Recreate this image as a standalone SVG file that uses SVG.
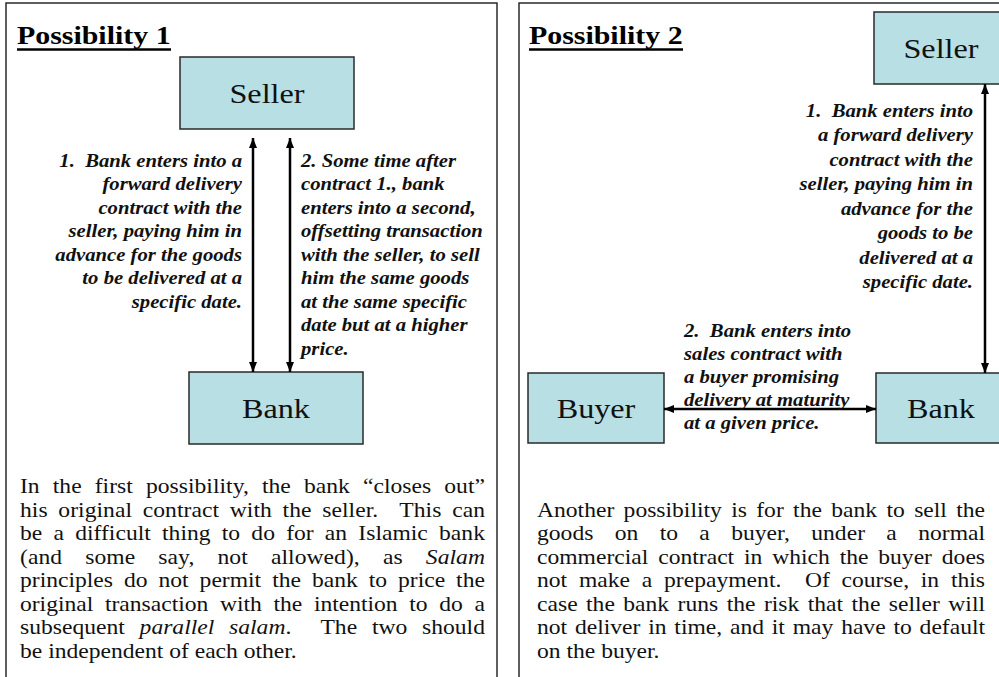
<svg xmlns="http://www.w3.org/2000/svg" width="999" height="677" viewBox="0 0 999 677">
  <style>
    .panel { fill: #ffffff; stroke: #2a2a2a; stroke-width: 1.5; }
    .box { fill: #b8dfe3; stroke: #2a2a2a; stroke-width: 1.5; }
    .title { font-family: "Liberation Serif", "Times New Roman", serif; font-size: 26px; font-weight: bold; fill: #000; }
    .rule { stroke: #000; stroke-width: 2.5; }
    .boxlabel { font-family: "Liberation Serif", "Times New Roman", serif; font-size: 28px; fill: #111; text-anchor: middle; }
    .note { font-family: "Liberation Serif", "Times New Roman", serif; font-size: 18px; font-weight: bold; font-style: italic; fill: #111; }
    .body { font-family: "Liberation Serif", "Times New Roman", serif; font-size: 20.5px; fill: #111; }
    .end { text-anchor: end; }
    .conn { stroke: #000; stroke-width: 2.5; fill: none; marker-start: url(#head); marker-end: url(#head); }
  </style>
  <defs>
    <marker id="head" viewBox="0 0 10 8" refX="10" refY="4" markerWidth="10" markerHeight="8" markerUnits="userSpaceOnUse" orient="auto-start-reverse">
      <path d="M0,0 L10,4 L0,8 z" fill="#000"/>
    </marker>
  </defs>

  <rect width="999" height="677" fill="#ffffff"/>

  <!-- two framed panels -->
  <rect class="panel" x="6" y="3" width="491" height="690"/>
  <rect class="panel" x="519" y="3" width="500" height="690"/>

  <!-- panel headings with underline rules -->
  <g transform="translate(17,44) scale(1.15,1)"><text class="title" x="0" y="0">Possibility 1</text></g>
  <line class="rule" x1="17" y1="49.5" x2="171" y2="49.5"/>
  <g transform="translate(529,44) scale(1.15,1)"><text class="title" x="0" y="0">Possibility 2</text></g>
  <line class="rule" x1="529" y1="49.5" x2="683" y2="49.5"/>

  <!-- nodes -->
  <g id="seller1">
    <rect class="box" x="180" y="57" width="174" height="72"/>
    <g transform="translate(267,103) scale(1.15,1)"><text class="boxlabel" x="0" y="0">Seller</text></g>
  </g>
  <g id="bank1">
    <rect class="box" x="189" y="372" width="174" height="72"/>
    <g transform="translate(276,418) scale(1.15,1)"><text class="boxlabel" x="0" y="0">Bank</text></g>
  </g>
  <g id="seller2">
    <rect class="box" x="874" y="12" width="140" height="72"/>
    <g transform="translate(941,58) scale(1.15,1)"><text class="boxlabel" x="0" y="0">Seller</text></g>
  </g>
  <g id="buyer2">
    <rect class="box" x="528" y="373" width="136" height="70"/>
    <g transform="translate(596,418) scale(1.15,1)"><text class="boxlabel" x="0" y="0">Buyer</text></g>
  </g>
  <g id="bank2">
    <rect class="box" x="876" y="373" width="140" height="70"/>
    <g transform="translate(941,418) scale(1.15,1)"><text class="boxlabel" x="0" y="0">Bank</text></g>
  </g>

  <!-- connectors -->
  <g id="connectors">
    <line class="conn" x1="253" y1="138" x2="253" y2="372"/>
    <line class="conn" x1="290" y1="138" x2="290" y2="372"/>
    <line class="conn" x1="985" y1="84" x2="985" y2="373"/>
    <line class="conn" x1="664" y1="409" x2="876" y2="409"/>
  </g>

  <!-- connector notes, panel 1 -->
  <g transform="translate(242,0) scale(1.15,1)">
    <text class="note end" x="0" y="167">1.&#160; Bank enters into a</text>
    <text class="note end" x="0" y="190.5">forward delivery</text>
    <text class="note end" x="0" y="214">contract with the</text>
    <text class="note end" x="0" y="237.5">seller, paying him in</text>
    <text class="note end" x="0" y="261">advance for the goods</text>
    <text class="note end" x="0" y="284.5">to be delivered at a</text>
    <text class="note end" x="0" y="308">specific date.</text>
  </g>
  <g transform="translate(301,0) scale(1.15,1)">
    <text class="note" x="0" y="167">2. Some time after</text>
    <text class="note" x="0" y="190.5">contract 1., bank</text>
    <text class="note" x="0" y="214">enters into a second,</text>
    <text class="note" x="0" y="237.5">offsetting transaction</text>
    <text class="note" x="0" y="261">with the seller, to sell</text>
    <text class="note" x="0" y="284.5">him the same goods</text>
    <text class="note" x="0" y="308">at the same specific</text>
    <text class="note" x="0" y="331.5">date but at a higher</text>
    <text class="note" x="0" y="355">price.</text>
  </g>

  <!-- connector notes, panel 2 -->
  <g transform="translate(973,0) scale(1.15,1)">
    <text class="note end" x="0" y="117">1.&#160; Bank enters into</text>
    <text class="note end" x="0" y="141.5">a forward delivery</text>
    <text class="note end" x="0" y="166">contract with the</text>
    <text class="note end" x="0" y="190.5">seller, paying him in</text>
    <text class="note end" x="0" y="215">advance for the</text>
    <text class="note end" x="0" y="239.5">goods to be</text>
    <text class="note end" x="0" y="264">delivered at a</text>
    <text class="note end" x="0" y="288.5">specific date.</text>
  </g>
  <g transform="translate(684,0) scale(1.15,1)">
    <text class="note" x="0" y="337">2.&#160; Bank enters into</text>
    <text class="note" x="0" y="360">sales contract with</text>
    <text class="note" x="0" y="383">a buyer promising</text>
    <text class="note" x="0" y="406">delivery at maturity</text>
    <text class="note" x="0" y="429">at a given price.</text>
  </g>

  <!-- explanatory paragraph, panel 1 (justified) -->
  <g transform="translate(20,0) scale(1.15,1)">
    <text class="body" x="0" y="493.5" word-spacing="6.2" textLength="404.3" lengthAdjust="spacing">In the first possibility, the bank “closes out”</text>
    <text class="body" x="0" y="517" word-spacing="4.2" textLength="404.3" lengthAdjust="spacing">his original contract with the seller.&#160; This can</text>
    <text class="body" x="0" y="540.5" word-spacing="4.6" textLength="404.3" lengthAdjust="spacing">be a difficult thing to do for an Islamic bank</text>
    <text class="body" x="0" y="564" word-spacing="15" textLength="404.3" lengthAdjust="spacing">(and some say, not allowed), as <tspan font-style="italic">Salam</tspan></text>
    <text class="body" x="0" y="587.5" word-spacing="4.4" textLength="404.3" lengthAdjust="spacing">principles do not permit the bank to price the</text>
    <text class="body" x="0" y="611" word-spacing="5" textLength="404.3" lengthAdjust="spacing">original transaction with the intention to do a</text>
    <text class="body" x="0" y="634.5" word-spacing="7.7" textLength="404.3" lengthAdjust="spacing">subsequent <tspan font-style="italic">parallel salam</tspan>.&#160; The two should</text>
    <text class="body" x="0" y="658">be independent of each other.</text>
  </g>

  <!-- explanatory paragraph, panel 2 (justified) -->
  <g transform="translate(537,0) scale(1.15,1)">
    <text class="body" x="0" y="517" word-spacing="3" textLength="389.6" lengthAdjust="spacing">Another possibility is for the bank to sell the</text>
    <text class="body" x="0" y="540.5" word-spacing="13.4" textLength="389.6" lengthAdjust="spacing">goods on to a buyer, under a normal</text>
    <text class="body" x="0" y="564" word-spacing="3.4" textLength="389.6" lengthAdjust="spacing">commercial contract in which the buyer does</text>
    <text class="body" x="0" y="587.5" word-spacing="5.1" textLength="389.6" lengthAdjust="spacing">not make a prepayment.&#160; Of course, in this</text>
    <text class="body" x="0" y="611" word-spacing="2.2" textLength="389.6" lengthAdjust="spacing">case the bank runs the risk that the seller will</text>
    <text class="body" x="0" y="634.5" word-spacing="1.7" textLength="389.6" lengthAdjust="spacing">not deliver in time, and it may have to default</text>
    <text class="body" x="0" y="658">on the buyer.</text>
  </g>
</svg>
